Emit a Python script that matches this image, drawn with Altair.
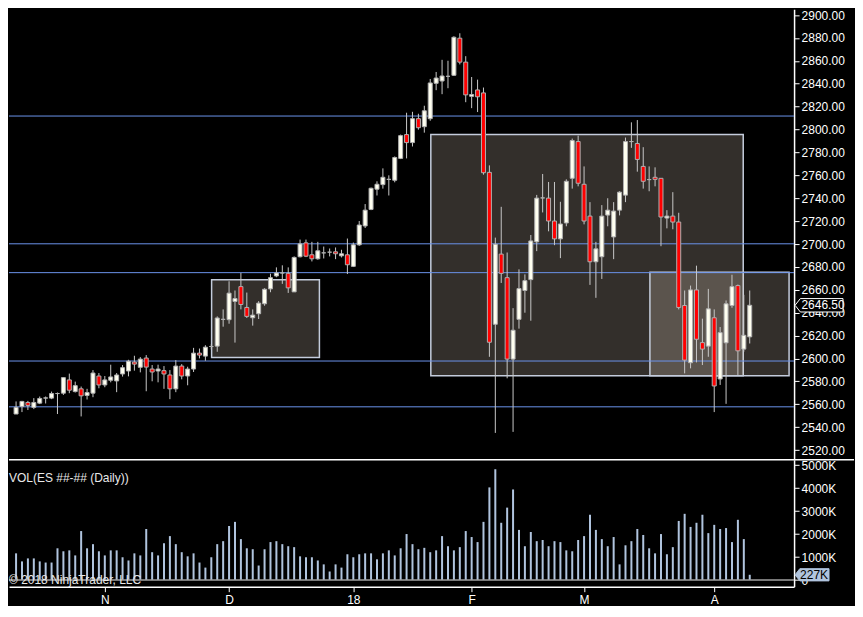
import altair as alt
import pandas as pd

OPENS = [2551.5, 2558.1, 2561.6, 2557.3, 2561.0, 2565.4, 2565.4, 2569.4, 2569.7, 2581.3,
         2571.1, 2573.5, 2567.7, 2569.7, 2584.7, 2576.9, 2581.0, 2580.4, 2586.5, 2589.1,
         2596.9, 2592.3, 2600.4, 2590.8, 2589.1, 2589.4, 2585.6, 2573.5, 2593.4, 2584.7,
         2590.8, 2604.7, 2602.1, 2610.5, 2610.8, 2634.2, 2633.9, 2649.8, 2662.8, 2644.6,
         2635.6, 2639.1, 2647.8, 2660.8, 2672.1, 2674.7, 2674.4, 2658.2, 2688.9, 2701.0,
         2690.6, 2687.1, 2692.3, 2692.9, 2693.2, 2689.7, 2690.6, 2680.5, 2699.3, 2715.8,
         2730.2, 2747.9, 2751.9, 2756.5, 2755.7, 2774.8, 2795.6, 2788.6, 2809.5, 2802.5,
         2809.5, 2840.4, 2842.4, 2846.5, 2847.4, 2879.8, 2858.9, 2829.0, 2834.6, 2832.0,
         2762.6, 2629.9, 2691.2, 2670.6, 2599.5, 2634.2, 2659.4, 2668.9, 2701.9, 2740.3,
         2740.1, 2720.1, 2704.5, 2718.4, 2757.4, 2789.5, 2752.2, 2724.4, 2684.5, 2688.9,
         2725.3, 2706.2, 2729.6, 2742.7, 2789.5, 2787.8, 2767.8, 2756.3, 2758.3, 2757.4,
         2722.7, 2724.4, 2719.2, 2646.3, 2596.3, 2659.9, 2613.9, 2610.8, 2635.6, 2582.1,
         2613.7, 2646.3, 2663.7, 2608.2, 2618.9]
HIGHS = [2562.5, 2563.0, 2563.0, 2565.4, 2566.8, 2566.8, 2571.1, 2570.3, 2583.6, 2586.8,
         2579.8, 2575.5, 2573.5, 2589.9, 2587.3, 2584.7, 2594.6, 2587.3, 2594.3, 2598.9,
         2602.4, 2601.2, 2603.0, 2594.3, 2594.6, 2593.4, 2589.9, 2598.6, 2595.1, 2592.8,
         2609.3, 2608.7, 2611.6, 2612.5, 2636.8, 2642.9, 2667.5, 2659.4, 2674.7, 2657.6,
         2642.9, 2650.1, 2661.4, 2674.1, 2679.6, 2681.4, 2679.6, 2689.2, 2703.9, 2703.9,
         2701.9, 2701.9, 2697.8, 2696.1, 2697.0, 2695.0, 2704.8, 2701.3, 2720.1, 2734.9,
         2749.3, 2754.8, 2766.1, 2760.0, 2776.5, 2795.6, 2814.7, 2815.5, 2813.8, 2820.8,
         2844.2, 2850.3, 2860.9, 2860.1, 2881.5, 2884.1, 2864.1, 2845.9, 2843.6, 2836.7,
         2768.7, 2705.6, 2732.5, 2692.6, 2644.0, 2677.9, 2673.5, 2707.9, 2742.9, 2761.2,
         2754.2, 2754.2, 2736.9, 2756.5, 2792.1, 2794.7, 2767.8, 2736.6, 2701.9, 2734.0,
         2740.0, 2736.6, 2746.1, 2793.0, 2806.3, 2808.3, 2784.6, 2767.8, 2767.0, 2757.4,
         2729.6, 2745.3, 2727.3, 2659.4, 2663.7, 2681.1, 2634.8, 2660.8, 2642.9, 2627.5,
         2650.7, 2673.2, 2664.6, 2655.6, 2659.4]
LOWS = [2551.5, 2553.2, 2555.0, 2555.8, 2560.2, 2560.7, 2564.5, 2551.5, 2568.2, 2569.7,
        2570.3, 2549.4, 2564.2, 2566.2, 2574.0, 2574.9, 2579.2, 2570.6, 2584.2, 2584.4,
        2589.4, 2587.9, 2571.4, 2580.1, 2579.2, 2573.5, 2564.5, 2570.6, 2581.8, 2576.6,
        2588.2, 2600.1, 2598.0, 2608.0, 2605.9, 2627.8, 2630.4, 2613.9, 2642.9, 2635.4,
        2628.7, 2634.5, 2646.1, 2657.9, 2671.0, 2665.2, 2657.3, 2658.2, 2688.3, 2688.6,
        2684.8, 2686.3, 2687.4, 2689.2, 2686.8, 2688.3, 2673.8, 2679.9, 2698.4, 2714.0,
        2729.6, 2742.4, 2748.4, 2742.4, 2753.9, 2774.2, 2774.8, 2785.2, 2799.9, 2797.3,
        2807.7, 2834.4, 2830.9, 2836.1, 2846.8, 2856.9, 2823.9, 2818.7, 2815.3, 2760.6,
        2601.5, 2535.0, 2666.0, 2582.7, 2535.9, 2626.1, 2640.0, 2633.0, 2693.8, 2727.6,
        2711.1, 2699.0, 2687.7, 2715.5, 2748.4, 2750.4, 2717.2, 2664.3, 2653.0, 2669.5,
        2715.5, 2686.8, 2725.0, 2736.6, 2784.0, 2763.2, 2748.4, 2746.1, 2750.4, 2698.1,
        2713.7, 2712.9, 2642.9, 2587.0, 2591.4, 2596.6, 2594.3, 2601.5, 2553.2, 2576.9,
        2560.4, 2644.3, 2585.6, 2605.9, 2613.1]
CLOSES = [2557.3, 2562.5, 2559.0, 2561.6, 2565.1, 2565.6, 2569.4, 2569.4, 2583.3, 2572.3,
          2576.3, 2567.4, 2570.3, 2587.3, 2576.9, 2581.3, 2583.9, 2585.6, 2592.0, 2597.7,
          2595.1, 2599.5, 2592.5, 2588.2, 2590.8, 2586.5, 2573.5, 2593.4, 2584.7, 2590.8,
          2604.7, 2603.0, 2609.9, 2610.5, 2635.4, 2634.2, 2657.1, 2652.4, 2647.2, 2636.8,
          2637.9, 2648.4, 2660.5, 2670.6, 2674.7, 2674.7, 2661.7, 2688.3, 2700.1, 2689.4,
          2687.1, 2694.1, 2692.3, 2692.9, 2691.5, 2691.5, 2681.9, 2699.3, 2716.6, 2729.6,
          2748.7, 2752.2, 2758.3, 2756.5, 2775.6, 2794.7, 2788.6, 2809.5, 2801.6, 2816.4,
          2840.7, 2845.0, 2846.8, 2846.5, 2880.6, 2858.9, 2830.3, 2830.6, 2828.6, 2762.3,
          2614.2, 2699.8, 2674.4, 2599.5, 2624.7, 2661.1, 2668.0, 2702.7, 2740.1, 2740.3,
          2720.1, 2704.5, 2717.5, 2754.8, 2790.4, 2753.1, 2720.1, 2684.5, 2695.8, 2724.4,
          2729.6, 2728.8, 2745.3, 2789.5, 2789.5, 2773.9, 2754.8, 2756.3, 2756.5, 2723.6,
          2724.4, 2719.2, 2644.6, 2598.6, 2659.9, 2616.8, 2608.2, 2643.4, 2576.0, 2622.6,
          2647.8, 2662.8, 2606.7, 2620.3, 2646.5]
VOLUMES_K = [1160, 810, 940, 940, 810, 760, 760, 1380, 1250, 1290,
             1070, 2130, 1380, 1560, 1250, 1070, 1290, 1290, 990, 850,
             1160, 1070, 2220, 1210, 1070, 1600, 1910, 1560, 1210, 1030,
             1160, 760, 540, 990, 1560, 1690, 2350, 2530, 1780, 1380,
             1340, 630, 1340, 1650, 1690, 1560, 1470, 1430, 1030, 990,
             990, 850, 680, 370, 680, 540, 1120, 990, 1120, 1160,
             1160, 900, 1160, 1290, 1070, 1380, 2000, 1560, 1340, 1400,
             1210, 1290, 1910, 1470, 1290, 1430, 2130, 1870, 1650, 2530,
             4030, 4820, 2490, 3150, 3940, 2180, 1470, 2090, 1690, 1740,
             1470, 1690, 1650, 1290, 1250, 1740, 1910, 2840, 2180, 1780,
             1470, 1870, 680, 1510, 1690, 2220, 1960, 1380, 1160, 2000,
             1120, 1430, 2570, 2880, 2310, 2490, 2840, 2040, 2400, 2220,
             2260, 1650, 2620, 1780, 227]

TICK_POS = [15, 36, 57, 77, 96, 118]
TICK_LABELS = ["N", "D", "18", "F", "M", "A"]
PRICE_TICKS = list(range(2520, 2901, 20))
VOL_TICKS = [0, 1000, 2000, 3000, 4000, 5000]
LEVELS = [2811.8, 2700.2, 2675.0, 2597.8, 2557.8]
BOX_X1 = [70.1, 107.13, 33.05]
BOX_X2 = [122.9, 130.65, 51.27]
BOX_LO = [2585.0, 2585.0, 2600.9]
BOX_HI = [2795.6, 2675.3, 2668.9]
LAST_PRICE = 2646.5
LAST_VOL = 227
VOL_TITLE = "VOL(ES ##-## (Daily))"
COPYRIGHT = "\u00a9 2018 NinjaTrader, LLC"

FONT = "Liberation Sans"
W = 786
HP = 451
HV = 127
XDOM = [-0.35, 130.65]
PDOM = [2511.5, 2905]
VDOM = [-290, 5230]

n = len(OPENS)
df = pd.DataFrame({
    "i": list(range(n)), "o": OPENS, "h": HIGHS, "l": LOWS, "c": CLOSES, "v": VOLUMES_K,
})
df["fillc"] = ["#fffff0" if c >= o else "#ff0000" for o, c in zip(OPENS, CLOSES)]

xs = alt.Scale(domain=XDOM, nice=False, zero=False)
ps = alt.Scale(domain=PDOM, nice=False, zero=False)
vs = alt.Scale(domain=VDOM, nice=False, zero=False)

pax = alt.Axis(orient="right", values=PRICE_TICKS, labelExpr="format(datum.value, '.2f')",
               title=None, grid=False, domainColor="white", domainWidth=1.5, tickColor="white",
               tickSize=5, labelColor="white", labelFont=FONT, labelFontSize=12, labelPadding=2)
vax = alt.Axis(orient="right", values=VOL_TICKS,
               labelExpr="datum.value == 0 ? '0' : datum.value + 'K'",
               title=None, grid=False, domainColor="white", domainWidth=1.5, tickColor="white",
               tickSize=5, labelColor="white", labelFont=FONT, labelFontSize=12, labelPadding=2)
label_expr = " : ".join(
    f"datum.value == {p} ? '{t}'" for p, t in zip(TICK_POS[:-1], TICK_LABELS[:-1])
) + f" : '{TICK_LABELS[-1]}'"
xax = alt.Axis(values=TICK_POS, labelExpr=label_expr, title=None, grid=False,
               domainColor="white", domainWidth=1.5, tickColor="white", tickSize=5,
               labelColor="white", labelFont=FONT, labelFontSize=12, labelPadding=3)

boxes = pd.DataFrame({"x1": BOX_X1, "x2": BOX_X2, "lo": BOX_LO, "hi": BOX_HI})
box_layer = alt.Chart(boxes).mark_rect(
    fill="#ffebd7", fillOpacity=0.2, stroke="#c4ccdc", strokeWidth=1.5
).encode(
    x=alt.X("x1:Q", scale=xs, axis=None), x2="x2:Q",
    y=alt.Y("lo:Q", scale=ps, axis=pax), y2="hi:Q",
)

levels = pd.DataFrame({"lv": LEVELS})
level_layer = alt.Chart(levels).mark_rule(strokeWidth=1, color="#6a93ea").encode(
    y=alt.Y("lv:Q", scale=ps, axis=pax),
)

base = alt.Chart(df)
wicks = base.mark_rule(color="#c8c8c8", strokeWidth=1).encode(
    x=alt.X("i:Q", scale=xs, axis=None),
    y=alt.Y("l:Q", scale=ps, axis=pax), y2="h:Q",
)
bodies = base.mark_bar(width=4, stroke="#b0b0b0", strokeWidth=1).encode(
    x=alt.X("i:Q", scale=xs, axis=None),
    y=alt.Y("o:Q", scale=ps, axis=pax), y2="c:Q",
    fill=alt.Color("fillc:N", scale=None),
)

pm = pd.DataFrame({"p": [LAST_PRICE], "t": [f"{LAST_PRICE:.2f}"]})
pmark = alt.Chart(pm).mark_point(
    shape="M-1,0 L-0.78,-0.28 L1,-0.28 L1,0.28 L-0.78,0.28 Z",
    size=2304, filled=True, fill="black", stroke="white", strokeWidth=1, opacity=1,
).encode(x=alt.value(W + 25), y=alt.Y("p:Q", scale=ps, axis=pax))
ptext = alt.Chart(pm).mark_text(
    color="white", font=FONT, fontSize=12, align="center", baseline="middle"
).encode(x=alt.value(W + 29), y=alt.Y("p:Q", scale=ps, axis=pax), text="t:N")

price = alt.layer(box_layer, level_layer, wicks, bodies, pmark, ptext).properties(
    width=W, height=HP
)

vbars = base.mark_bar(width=2, color="#b0c4de").encode(
    x=alt.X("i:Q", scale=xs, axis=xax),
    y=alt.Y("v:Q", scale=vs, axis=vax),
)
zdf = pd.DataFrame({"z": [0]})
zero_rule = alt.Chart(zdf).mark_rule(color="#a0a0a0", strokeWidth=1.5).encode(
    y=alt.Y("z:Q", scale=vs, axis=vax)
)
sep = alt.Chart(zdf).mark_rule(color="white", strokeWidth=1.5).encode(
    x=alt.value(0), x2=alt.value(W + 60), y=alt.value(0)
)
tdf = pd.DataFrame({"a": [VOL_TITLE], "b": [COPYRIGHT]})
vtitle = alt.Chart(tdf).mark_text(
    color="#e8e8e8", font=FONT, fontSize=12, align="left", baseline="middle"
).encode(x=alt.value(0), y=alt.value(18), text="a:N")
copy_t = alt.Chart(tdf).mark_text(
    color="#e8e8e8", font=FONT, fontSize=12, align="left", baseline="middle"
).encode(x=alt.value(0), y=alt.value(HV - 7), text="b:N")

vm = pd.DataFrame({"v": [LAST_VOL], "t": [f"{LAST_VOL}K"]})
vmark = alt.Chart(vm).mark_point(
    shape="M-1,0 L-0.72,-0.36 L1,-0.36 L1,0.36 L-0.72,0.36 Z",
    size=1156, filled=True, fill="#b0c4de", stroke="#b0c4de", strokeWidth=1, opacity=1,
).encode(x=alt.value(W + 18), y=alt.Y("v:Q", scale=vs, axis=vax))
vtext = alt.Chart(vm).mark_text(
    color="black", font=FONT, fontSize=12, align="center", baseline="middle"
).encode(x=alt.value(W + 20), y=alt.Y("v:Q", scale=vs, axis=vax), text="t:N")

volume = alt.layer(vbars, zero_rule, sep, vtitle, copy_t, vmark, vtext).properties(
    width=W, height=HV
)

chart = alt.vconcat(price, volume, spacing=0, bounds="flush").properties(
    padding={"left": 0, "top": 0, "right": 0, "bottom": 0}
).configure(background="black").configure_view(strokeWidth=0)

chart.save("out.html", embed_options={"renderer": "svg", "actions": False})
